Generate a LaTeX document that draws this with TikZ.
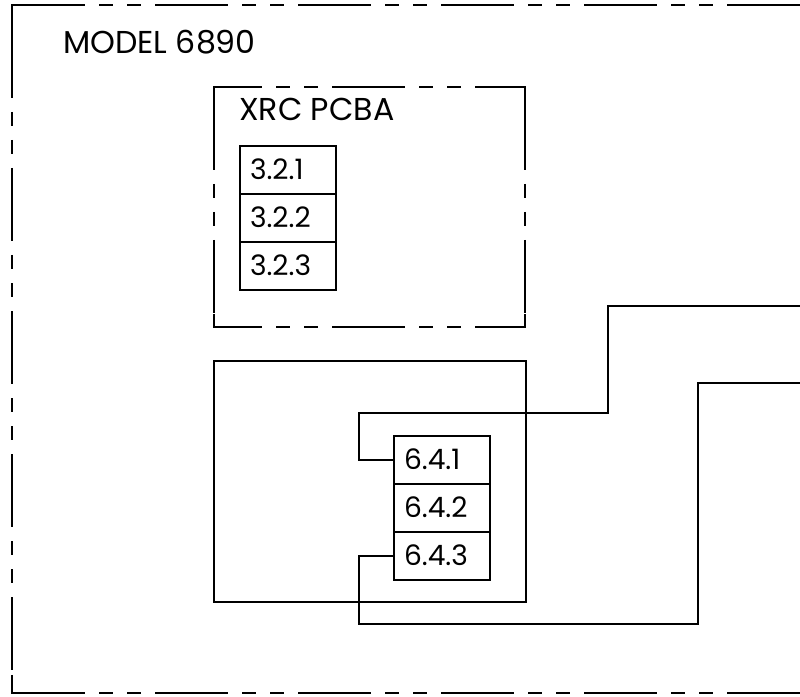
\documentclass[tikz,border=0pt]{standalone}
\usepackage{fontspec}
\setmainfont{Poppins}
\usetikzlibrary{positioning}
\tikzset{phantom/.style={dash pattern=on 14.6mm off 2.8mm on 2.8mm off 2.8mm on 2.8mm off 2.8mm},cell/.style={draw,anchor=north west,outer sep=0pt,minimum width=19.2mm,minimum height=9.6mm,inner xsep=2mm,inner ysep=0pt,text width=15.2mm,align=left,text height=11pt,text depth=0pt,font=\fontsize{16}{16}\selectfont},label/.style={anchor=base west,inner sep=0pt,font=\fontsize{18}{18}\selectfont},every picture/.style={line width=1.3pt}}
\begin{document}
\begin{tikzpicture}[x=0.2mm,y=-0.2mm]
\useasboundingbox (0,0) rectangle (800,697);
% outer frame, open to the right
\draw[phantom] (12,5) -- (800,5);
\draw[phantom] (12,693) -- (800,693);
\draw[phantom,dash phase=24.6mm] (12,5) -- (12,693);
\draw (12,26) -- (12,5) -- (85,5);
\draw (12,675) -- (12,693) -- (85,693);
\node[label] (model) at (62,54) {MODEL 6890};
% XRC board
\draw[phantom,dash phase=5mm] (214,87) -- (525,87);
\draw[phantom,dash phase=5mm] (214,327) -- (525,327);
\draw[phantom,dash phase=26.6mm] (214,87) -- (214,327);
\draw[phantom,dash phase=26.6mm] (525,87) -- (525,327);
\draw (214,99) -- (214,87) -- (262,87);
\draw (477,87) -- (525,87) -- (525,99);
\draw (214,314) -- (214,327) -- (262,327);
\draw (477,327) -- (525,327) -- (525,314);
\node[label] (xrc) at (238,121) {XRC PCBA};
\node[cell] (c321) at (240,146) {3.2.1};
\node[cell,below=0pt of c321] (c322) {3.2.2};
\node[cell,below=0pt of c322] (c323) {3.2.3};
% second board
\node[draw,anchor=north west,outer sep=0pt,minimum width=62.4mm,minimum height=48.2mm] (board) at (214,361) {};
\node[cell] (c641) at (394,436) {6.4.1};
\node[cell,below=0pt of c641] (c642) {6.4.2};
\node[cell,below=0pt of c642] (c643) {6.4.3};
% leads going off to the right
\coordinate (outa) at (800,306);
\coordinate (outb) at (800,383);
\draw (c641.west) -- ++(-35,0) |- (608,413) |- (outa);
\draw (c643.west) -- ++(-35,0) |- (698,624) |- (outb);
\end{tikzpicture}
\end{document}
